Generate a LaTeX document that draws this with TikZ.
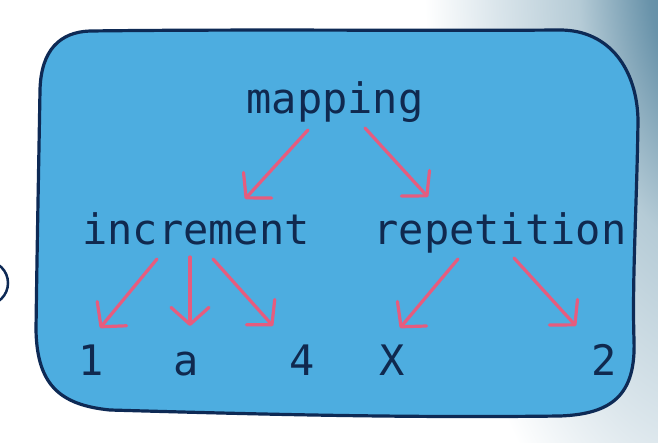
\documentclass[tikz,border=0pt]{standalone}
\usepackage{fontspec}
\newfontfamily\monofont{DejaVu Sans Mono}
\usetikzlibrary{arrows.meta,calc}
\definecolor{boxblue}{HTML}{4DADE0}
\definecolor{navy}{HTML}{0E2A55}
\definecolor{txt}{HTML}{10294F}
\definecolor{arrowpink}{HTML}{E65C7E}
\definecolor{gA}{HTML}{4F7F9A}
\definecolor{gB}{HTML}{6993AA}
\definecolor{gC}{HTML}{B5CBD6}
\definecolor{gD}{HTML}{DAE5EB}
\pgfdeclareradialshading{bgglow}{\pgfpoint{0bp}{0bp}}{%
  color(0bp)=(gA); color(4.5bp)=(gB); color(10.25bp)=(gC);
  color(17bp)=(gD); color(23bp)=(white); color(50bp)=(white)}
\begin{document}
\begin{tikzpicture}[x=1pt,y=-1pt,
  lbl/.style={font=\monofont\fontsize{42}{42}\selectfont, text=txt, inner sep=0pt, anchor=base},
  arr/.style={draw=arrowpink, line width=3.2pt, line cap=round,
    -{Straight Barb[length=17pt,width=38pt,line cap=round,line join=round]}},
  boxline/.style={draw=navy, line width=3.2pt, fill=boxblue, line join=round}]
\useasboundingbox (0,0) rectangle (658,442);
% background
\fill[white] (0,0) rectangle (658,442);
\begin{scope}
  \clip (0,0) rectangle (658,442);
  \shade[shading=bgglow] (700,-40) ellipse [x radius=300, y radius=700];
  \draw[navy, line width=2.5pt] (-14,283) circle (22);
\end{scope}
% main box
\path[boxline] (90,31) .. controls (250,29) and (420,31) .. (560,30)
  .. controls (610,30) and (637,70) .. (638,120)
  .. controls (637,200) and (632,280) .. (634,340)
  .. controls (636,395) and (612,414) .. (560,416)
  .. controls (400,418) and (250,414) .. (110,410)
  .. controls (60,405) and (37,385) .. (36,330)
  .. controls (37,250) and (39,150) .. (40,90)
  .. controls (41,50) and (60,32) .. (90,31) -- cycle;
% labels
\node[lbl] (mapping) at (335,113) {mapping};
\node[lbl] (increment) at (196,244) {increment};
\node[lbl] (repetition) at (500,244) {repetition};
\node[lbl] (one) at (91,375) {1};
\node[lbl] (a) at (186,375) {a};
\node[lbl] (four) at (302,375) {4};
\node[lbl] (X) at (392,375) {X};
\node[lbl] (two) at (604,375) {2};
% arrows
\draw[arr] ($(mapping.base)+(-27,17)$) -- ($(increment.base)+(49,-45)$);
\draw[arr] ($(mapping.base)+(30,15)$) -- ($(repetition.base)+(-72,-47)$);
\draw[arr] ($(increment.base)+(-39,15)$) -- ($(one.base)+(9,-47)$);
\draw[arr] ($(increment.base)+(-6,13)$) -- ($(a.base)+(4,-49)$);
\draw[arr] ($(increment.base)+(17,15)$) -- ($(four.base)+(-29,-49)$);
\draw[arr] ($(repetition.base)+(-42,15)$) -- ($(X.base)+(8,-47)$);
\draw[arr] ($(repetition.base)+(14,14)$) -- ($(two.base)+(-28,-49)$);
\end{tikzpicture}
\end{document}
